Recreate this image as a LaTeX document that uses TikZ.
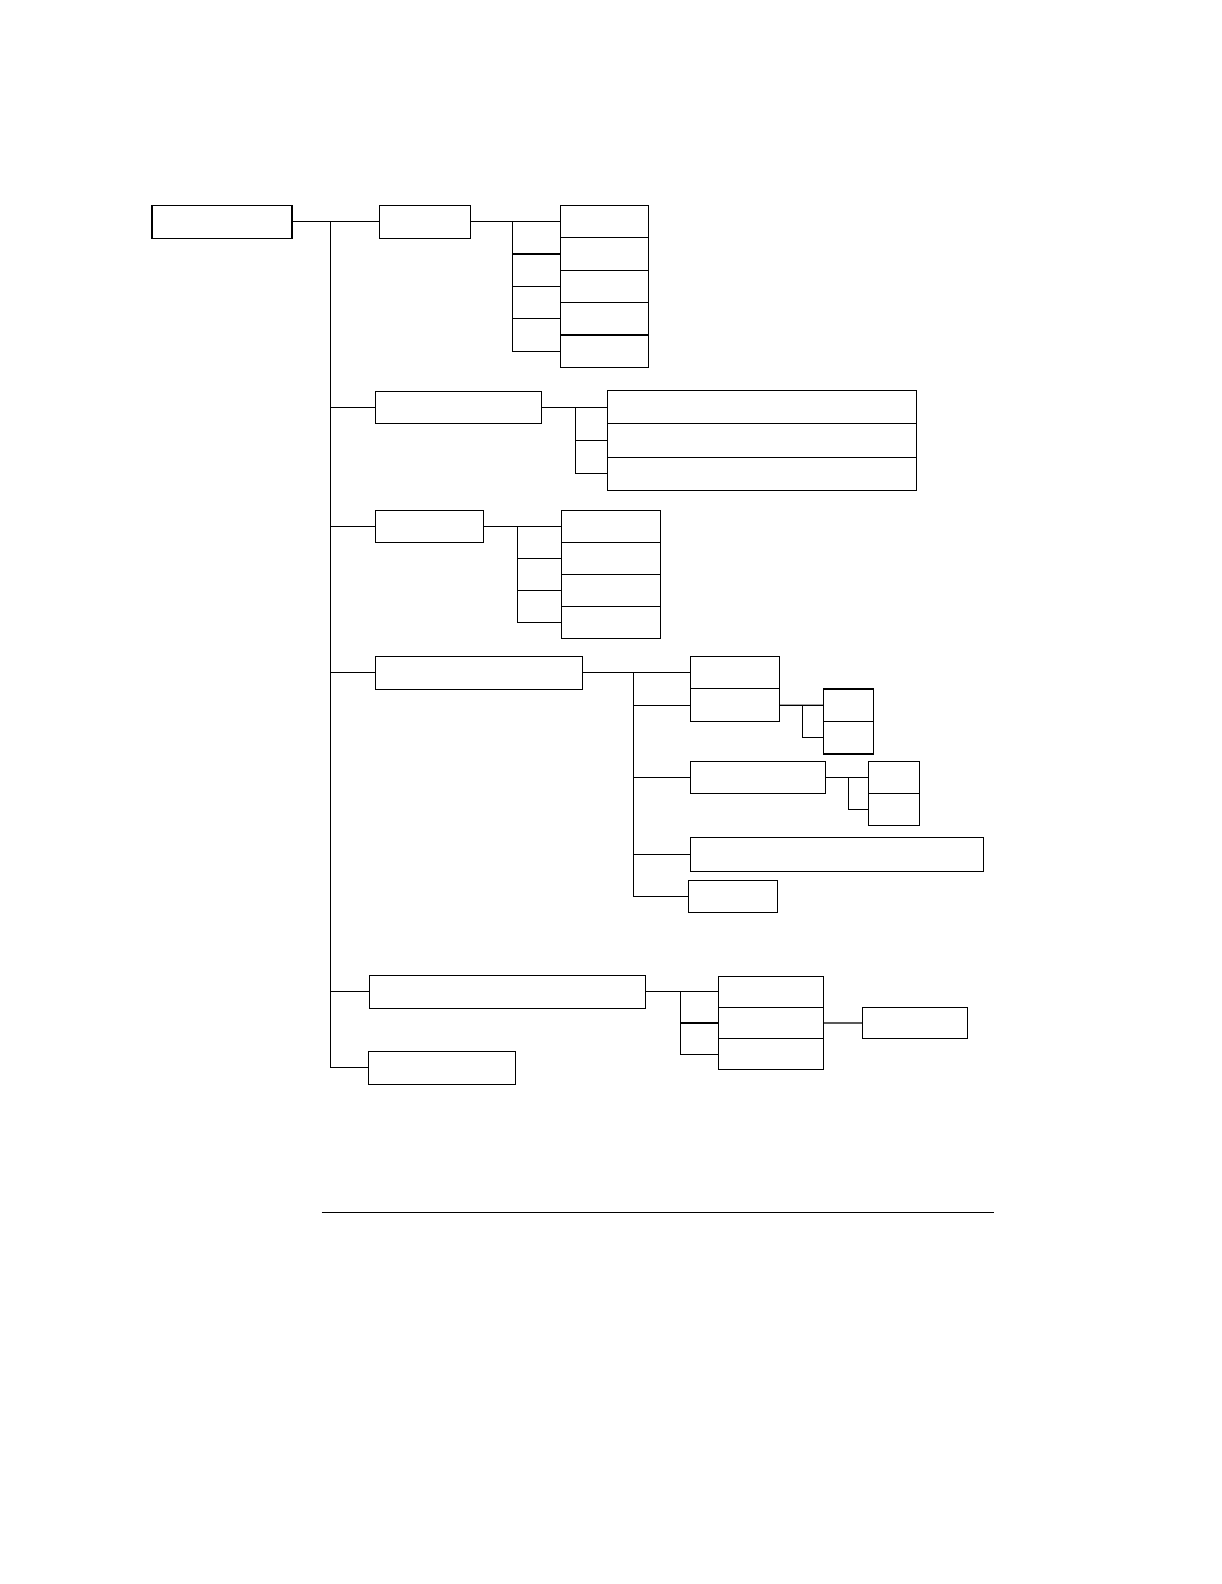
\documentclass[tikz,border=0pt]{standalone}
\usepackage{tikz}
\usetikzlibrary{positioning,calc}

\begin{document}
\begin{tikzpicture}[
    x=0.02cm, y=-0.02cm,
    box/.style={
      draw,
      line width=0.6pt,
      inner sep=0pt,
      outer sep=0pt,
      minimum height=0.66cm
    },
    link/.style={
      line width=0.6pt
    }]

    \useasboundingbox (0,0) rectangle (1222,1584);

    % Root
    \node[box,minimum width=2.8cm] (root) at (222,221.6) {};

    % Level 1
    \node[box,minimum width=1.83cm] (a) at (425,221.6) {};
    \node[box,minimum width=3.33cm,minimum height=0.64cm] (b) at (458.5,407.3) {};
    \node[box,minimum width=2.17cm,minimum height=0.64cm] (c) at (429.5,526.3) {};
    \node[box,minimum width=4.15cm] (d) at (479,672.6) {};
    \node[box,minimum width=5.53cm] (e) at (507.5,991.7) {};
    \node[box,minimum width=2.94cm] (f) at (442,1067.7) {};

    % Children of a
    \node[box,minimum width=1.77cm,minimum height=0.648cm] (a1) at (604.5,221.6) {};
    \foreach \k [evaluate=\k as \j using int(\k-1)] in {2,...,5}
      \node[box,minimum width=1.77cm,minimum height=0.648cm,below=0pt of a\j] (a\k) {};

    % Children of b
    \node[box,minimum width=6.18cm,minimum height=0.664cm] (b1) at (761.7,407.3) {};
    \node[box,minimum width=6.18cm,minimum height=0.664cm,below=0pt of b1] (b2) {};
    \node[box,minimum width=6.18cm,minimum height=0.664cm,below=0pt of b2] (b3) {};

    % Children of c
    \node[box,minimum width=1.98cm,minimum height=0.64cm] (c1) at (610.9,526.3) {};
    \foreach \k [evaluate=\k as \j using int(\k-1)] in {2,...,4}
      \node[box,minimum width=1.98cm,minimum height=0.64cm,below=0pt of c\j] (c\k) {};

    % Children of d
    \node[box,minimum width=1.78cm,minimum height=0.653cm] (d1) at (734.8,672.6) {};
    \node[box,minimum width=1.78cm,minimum height=0.653cm,below=0pt of d1] (d2) {};
    \node[box,minimum width=2.71cm,minimum height=0.64cm] (d3) at (757.9,777.3) {};
    \node[box,minimum width=5.87cm,minimum height=0.674cm] (d4) at (836.9,854.2) {};
    \node[box,minimum width=1.77cm,minimum height=0.646cm] (d5) at (732.8,896.2) {};

    \node[box,minimum width=1.0cm,minimum height=0.65cm] (d21) at (848.6,705.25) {};
    \node[box,minimum width=1.0cm,minimum height=0.65cm,below=0pt of d21] (d22) {};
    \node[box,minimum width=1.02cm,minimum height=0.64cm] (d31) at (893.8,777.3) {};
    \node[box,minimum width=1.02cm,minimum height=0.64cm,below=0pt of d31] (d32) {};

    % Children of e
    \node[box,minimum width=2.1cm,minimum height=0.626cm] (e1) at (770.9,991.7) {};
    \node[box,minimum width=2.1cm,minimum height=0.626cm,below=0pt of e1] (e2) {};
    \node[box,minimum width=2.1cm,minimum height=0.626cm,below=0pt of e2] (e3) {};
    \node[box,minimum width=2.1cm,minimum height=0.634cm] (e21) at (914.7,1023) {};

    % Trunk and branch points
    \coordinate (trunk) at (330.3,221.6);
    \coordinate (abr) at (512.3,221.6);
    \coordinate (bbr) at (575.2,407.3);
    \coordinate (cbr) at (517.4,526.3);
    \coordinate (dbr) at (633.2,672.6);
    \coordinate (d2br) at (802.3,705.25);
    \coordinate (d3br) at (848.5,777.3);
    \coordinate (ebr) at (680.3,991.7);

    % Trunk
    \draw[link] (root.east) -- (a.west);
    \draw[link] (trunk) |- (f.west);
    \foreach \n in {b,c,d,e}
      \draw[link] (\n.west -| trunk) -- (\n.west);

    % Brackets
    \draw[link] (a.east) -- (a1.west);
    \draw[link] (abr) |- (a5.west);
    \foreach \k in {2,3,4}
      \draw[link] (a\k.west -| abr) -- (a\k.west);

    \draw[link] (b.east) -- (b1.west);
    \draw[link] (bbr) |- (b3.west);
    \draw[link] (b2.west -| bbr) -- (b2.west);

    \draw[link] (c.east) -- (c1.west);
    \draw[link] (cbr) |- (c4.west);
    \foreach \k in {2,3}
      \draw[link] (c\k.west -| cbr) -- (c\k.west);

    \draw[link] (d.east) -- (d1.west);
    \draw[link] (dbr) |- (d5.west);
    \foreach \k in {2,3,4}
      \draw[link] (d\k.west -| dbr) -- (d\k.west);

    \draw[link] (d2.east) -- (d21.west);
    \draw[link] (d2br) |- (d22.west);
    \draw[link] (d3.east) -- (d31.west);
    \draw[link] (d3br) |- (d32.west);

    \draw[link] (e.east) -- (e1.west);
    \draw[link] (ebr) |- (e3.west);
    \draw[link] (e2.west -| ebr) -- (e2.west);
    \draw[link] (e2.east) -- (e21.west);

    % Rule at the foot
    \coordinate (ruleL) at (321.5,1212.3);
    \coordinate (ruleR) at (994.2,1212.3);
    \draw[link] (ruleL) -- (ruleR);
  \end{tikzpicture}
\end{document}
